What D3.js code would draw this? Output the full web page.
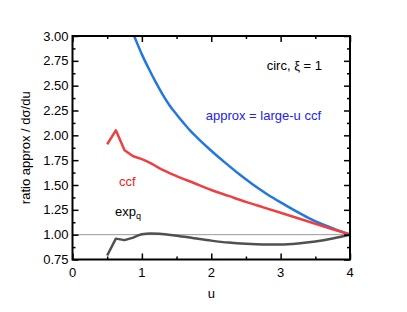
<!DOCTYPE html>
<html>
<head>
<meta charset="utf-8">
<script src="https://cdn.jsdelivr.net/npm/d3@7"></script>
<style>
  body { margin: 0; background: #fff; }
  text { font-family: "Liberation Sans", Arial, sans-serif; }
</style>
</head>
<body>
<div id="main"></div>
<script>
// data
var approxU = [0.85, 0.9, 1.0, 1.1, 1.2, 1.3, 1.4, 1.5, 1.6, 1.7, 1.8, 2.0, 2.2, 2.4, 2.6, 2.8, 3.0, 3.2, 3.4, 3.6, 3.8, 4.0];
var approxV = [3.06, 2.98, 2.815, 2.67, 2.535, 2.41, 2.30, 2.21, 2.125, 2.045, 1.975, 1.845, 1.725, 1.61, 1.505, 1.41, 1.325, 1.245, 1.17, 1.105, 1.05, 1.0];

var ccfU = [0.5, 0.625, 0.75, 0.875, 1.0, 1.125, 1.25, 1.5, 1.75, 2.0, 2.25, 2.5, 2.75, 3.0, 3.25, 3.5, 3.75, 4.0];
var ccfV = [1.91, 2.05, 1.85, 1.79, 1.76, 1.72, 1.67, 1.59, 1.52, 1.45, 1.39, 1.33, 1.275, 1.22, 1.165, 1.11, 1.055, 1.0];

var expU = [0.5, 0.625, 0.75, 0.875, 1.0, 1.125, 1.25, 1.5, 1.75, 2.0, 2.25, 2.5, 2.75, 3.0, 3.25, 3.5, 3.75, 4.0];
var expV = [0.79, 0.96, 0.945, 0.97, 1.005, 1.013, 1.01, 0.99, 0.965, 0.94, 0.92, 0.908, 0.902, 0.902, 0.912, 0.932, 0.962, 1.0];

var xTicks = [0, 1, 2, 3, 4];
var yTicks = [0.75, 1.00, 1.25, 1.50, 1.75, 2.00, 2.25, 2.50, 2.75, 3.00];

var W = 407, H = 312;
var padL = 72.5, padR = 350, padT = 36, padB = 259.5;

var svg = d3.select("#main").append("svg")
    .attr("width", W)
    .attr("height", H);

var x = d3.scaleLinear().domain([0, 4]).range([padL, padR]);
var y = d3.scaleLinear().domain([0.75, 3]).range([padB, padT]);

svg.append("clipPath").attr("id", "plot")
  .append("rect")
    .attr("x", padL).attr("y", padT)
    .attr("width", padR - padL).attr("height", padB - padT);

// reference line at 1
svg.append("line")
    .attr("x1", x(0)).attr("x2", x(4))
    .attr("y1", y(1)).attr("y2", y(1))
    .attr("stroke", "#9a9a9a").attr("stroke-width", 1);

var line = d3.line()
    .x(d => x(d[0]))
    .y(d => y(d[1]))
    .curve(d3.curveMonotoneX);

var sharp = d3.line()
    .x(d => x(d[0]))
    .y(d => y(d[1]));

var g = svg.append("g").attr("clip-path", "url(#plot)");

g.append("path")
    .attr("d", line(d3.zip(approxU, approxV)))
    .attr("fill", "none").attr("stroke", "#2277e0").attr("stroke-width", 2.5);

g.append("path")
    .attr("d", sharp(d3.zip(ccfU.slice(0, 5), ccfV.slice(0, 5))) + line(d3.zip(ccfU.slice(4), ccfV.slice(4))).replace(/^M/, "L"))
    .attr("fill", "none").attr("stroke", "#ee4040").attr("stroke-width", 2.5)
    .attr("stroke-linejoin", "round");

g.append("path")
    .attr("d", sharp(d3.zip(expU.slice(0, 4), expV.slice(0, 4))) + line(d3.zip(expU.slice(3), expV.slice(3))).replace(/^M/, "L"))
    .attr("fill", "none").attr("stroke", "#505050").attr("stroke-width", 2.5)
    .attr("stroke-linejoin", "round");

// axes, ticks inward on all sides
var xMinor = d3.range(0.5, 4, 1);
var yMinor = d3.range(0.875, 3, 0.25);

svg.append("g").attr("transform", "translate(0," + padB + ")")
    .call(d3.axisTop(x).tickValues(xTicks).tickSize(6).tickFormat(""));
svg.append("g").attr("transform", "translate(0," + padB + ")")
    .call(d3.axisTop(x).tickValues(xMinor).tickSize(3).tickFormat(""));
svg.append("g").attr("transform", "translate(0," + padT + ")")
    .call(d3.axisBottom(x).tickValues(xTicks).tickSize(6).tickFormat(""));
svg.append("g").attr("transform", "translate(0," + padT + ")")
    .call(d3.axisBottom(x).tickValues(xMinor).tickSize(3).tickFormat(""));
svg.append("g").attr("transform", "translate(" + padL + ",0)")
    .call(d3.axisRight(y).tickValues(yTicks).tickSize(6).tickFormat(""));
svg.append("g").attr("transform", "translate(" + padL + ",0)")
    .call(d3.axisRight(y).tickValues(yMinor).tickSize(3).tickFormat(""));
svg.append("g").attr("transform", "translate(" + padR + ",0)")
    .call(d3.axisLeft(y).tickValues(yTicks).tickSize(6).tickFormat(""));
svg.append("g").attr("transform", "translate(" + padR + ",0)")
    .call(d3.axisLeft(y).tickValues(yMinor).tickSize(3).tickFormat(""));

svg.selectAll(".domain").remove();
svg.selectAll(".tick line").attr("stroke", "#000").attr("stroke-width", 1.5);

svg.append("rect")
    .attr("x", padL).attr("y", padT)
    .attr("width", padR - padL).attr("height", padB - padT)
    .attr("fill", "none").attr("stroke", "#000").attr("stroke-width", 2);

// tick labels
svg.selectAll(".xl").data(xTicks).enter().append("text")
    .attr("x", d => x(d)).attr("y", padB + 17)
    .attr("text-anchor", "middle").attr("font-size", 13)
    .text(d => d);
svg.selectAll(".yl").data(yTicks).enter().append("text")
    .attr("x", padL - 4).attr("y", d => y(d) + 4.5)
    .attr("text-anchor", "end").attr("font-size", 13)
    .text(d => d.toFixed(2));

// axis titles
svg.append("text")
    .attr("x", x(2)).attr("y", 298)
    .attr("text-anchor", "middle").attr("font-size", 13)
    .text("u");
svg.append("text")
    .attr("transform", "translate(30," + ((padT + padB) / 2) + ") rotate(-90)")
    .attr("text-anchor", "middle").attr("font-size", 13)
    .text("ratio approx / dσ/du");

// annotations
svg.append("text")
    .attr("x", 322).attr("y", 70)
    .attr("text-anchor", "end").attr("font-size", 13)
    .text("circ, ξ = 1");
svg.append("text")
    .attr("x", 321).attr("y", 120)
    .attr("text-anchor", "end").attr("font-size", 13).attr("fill", "#2222ee")
    .text("approx = large-u ccf");
svg.append("text")
    .attr("x", 119).attr("y", 186)
    .attr("font-size", 13).attr("fill", "#ee2222")
    .text("ccf");
var ex = svg.append("text")
    .attr("x", 115).attr("y", 216)
    .attr("font-size", 13);
ex.append("tspan").text("exp");
ex.append("tspan").attr("font-size", 9).attr("dy", 3).text("q");
</script>
</body>
</html>
